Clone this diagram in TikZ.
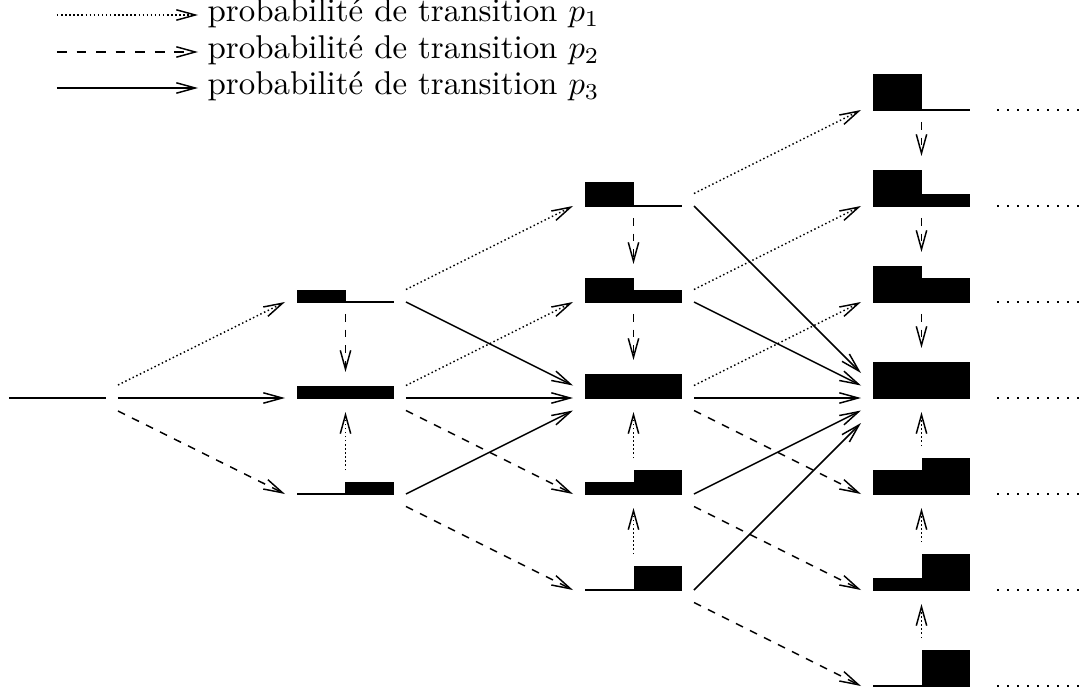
\documentclass[tikz,border=0pt]{standalone}
\usepackage{fontspec}
\usetikzlibrary{arrows.meta,calc}
\tikzset{
 stbox/.style={draw=none, inner sep=0pt, outer sep=0pt, minimum width=29.75pt},
 baseln/.style={line width=0.45pt},
 tr/.style={line width=0.45pt, -{Straight Barb[length=5.8pt,width=3.2pt]}},
 pone/.style={tr, dash pattern=on 0.45pt off 0.8pt},
 ptwo/.style={tr, dash pattern=on 2.4pt off 2.4pt},
 legtwo/.style={tr, dash pattern=on 3pt off 3pt},
 pthree/.style={tr},
 cont/.style={line width=0.45pt, dash pattern=on 0.5pt off 2.57pt},
 legtxt/.style={anchor=base west, inner sep=0pt, font=\fontsize{10.1pt}{12pt}\selectfont},
 down/.style={shorten <=3.68pt, shorten >=4.3pt},
}
\newcommand\mkstate[5]{%
 \pgfmathsetmacro\sthh{max(#4,#5)*3.68}%
 \node[stbox, minimum height=\sthh pt, anchor=south west] (#1) at ({9+288*#2},{398+96*#3}) {};
 \draw[baseln] (#1.south west) -- (#1.south east);
 \fill (#1.south west) rectangle ++(48.5,{-12*#4});
 \fill (#1.south) rectangle ++(48.5,{-12*#5});
}
\newcommand\tra[5]{\draw[#1] ($(#2.south east)+(12,#4)$) -- ($(#3.south west)+(-12,#5)$);}
\begin{document}
\begin{tikzpicture}[x=0.3067pt,y=-0.3067pt]
\useasboundingbox (0,0) rectangle (1081,693);
% legend
\coordinate (l1a) at (57,15); \coordinate (l1b) at (198,15);
\coordinate (l2a) at (57,52); \coordinate (l2b) at (198,52);
\coordinate (l3a) at (57,88); \coordinate (l3b) at (198,88);
\draw[pone] (l1a) -- (l1b);
\draw[legtwo] (l2a) -- (l2b);
\draw[pthree] (l3a) -- (l3b);
\node[legtxt] (t1) at (207,22) {probabilité de transition $p_1$};
\node[legtxt] (t2) at (207,59) {probabilité de transition $p_2$};
\node[legtxt] (t3) at (207,95) {probabilité de transition $p_3$};
% states
\mkstate{S0}{0}{0}{0}{0}
\mkstate{A1}{1}{-1}{1}{0}
\mkstate{B1}{1}{0}{1}{1}
\mkstate{C1}{1}{1}{0}{1}
\mkstate{A2}{2}{-2}{2}{0}
\mkstate{B2}{2}{-1}{2}{1}
\mkstate{C2}{2}{0}{2}{2}
\mkstate{D2}{2}{1}{1}{2}
\mkstate{E2}{2}{2}{0}{2}
\mkstate{A3}{3}{-3}{3}{0}
\mkstate{B3}{3}{-2}{3}{1}
\mkstate{C3}{3}{-1}{3}{2}
\mkstate{D3}{3}{0}{3}{3}
\mkstate{E3}{3}{1}{2}{3}
\mkstate{F3}{3}{2}{1}{3}
\mkstate{G3}{3}{3}{0}{3}
% col0 -> col1
\tra{pone}{S0}{A1}{-13}{0}
\tra{pthree}{S0}{B1}{0}{0}
\tra{ptwo}{S0}{C1}{13}{0}
% col1 -> col2
\tra{pone}{A1}{A2}{-12.5}{0}
\tra{pthree}{A1}{C2}{0}{-12.5}
\draw[ptwo,down] (A1.south) -- (B1.north);
\tra{pone}{B1}{B2}{-12.5}{0}
\tra{pthree}{B1}{C2}{0}{0}
\tra{ptwo}{B1}{D2}{12.5}{0}
\draw[pone,down] (C1.north) -- (B1.south);
\tra{pthree}{C1}{C2}{0}{12.5}
\tra{ptwo}{C1}{E2}{12.5}{0}
% col2 -> col3
\tra{pone}{A2}{A3}{-12.5}{0}
\tra{pthree}{A2}{D3}{0}{-25}
\draw[ptwo,down] (A2.south) -- (B2.north);
\tra{pone}{B2}{B3}{-12.5}{0}
\tra{pthree}{B2}{D3}{0}{-12.5}
\draw[ptwo,down] (B2.south) -- (C2.north);
\tra{pone}{C2}{C3}{-12.5}{0}
\tra{pthree}{C2}{D3}{0}{0}
\tra{ptwo}{C2}{E3}{12.5}{0}
\draw[pone,down] (D2.north) -- (C2.south);
\tra{pthree}{D2}{D3}{0}{12.5}
\tra{ptwo}{D2}{F3}{12.5}{0}
\draw[pone,down] (E2.north) -- (D2.south);
\tra{pthree}{E2}{D3}{0}{25}
\tra{ptwo}{E2}{G3}{12.5}{0}
% col3 verticals
\draw[ptwo,down] (A3.south) -- (B3.north);
\draw[ptwo,down] (B3.south) -- (C3.north);
\draw[ptwo,down] (C3.south) -- (D3.north);
\draw[pone,down] (G3.north) -- (F3.south);
\draw[pone,down] (F3.north) -- (E3.south);
\draw[pone,down] (E3.north) -- (D3.south);
% continuation
\foreach \n in {A3,B3,C3,D3,E3,F3,G3}{
 \coordinate (\n c) at ($(\n.south east)+(27,0)$);
 \coordinate (\n d) at ($(\n.south east)+(111,0)$);
 \draw[cont] (\n c) -- (\n d);
}
\end{tikzpicture}
\end{document}
